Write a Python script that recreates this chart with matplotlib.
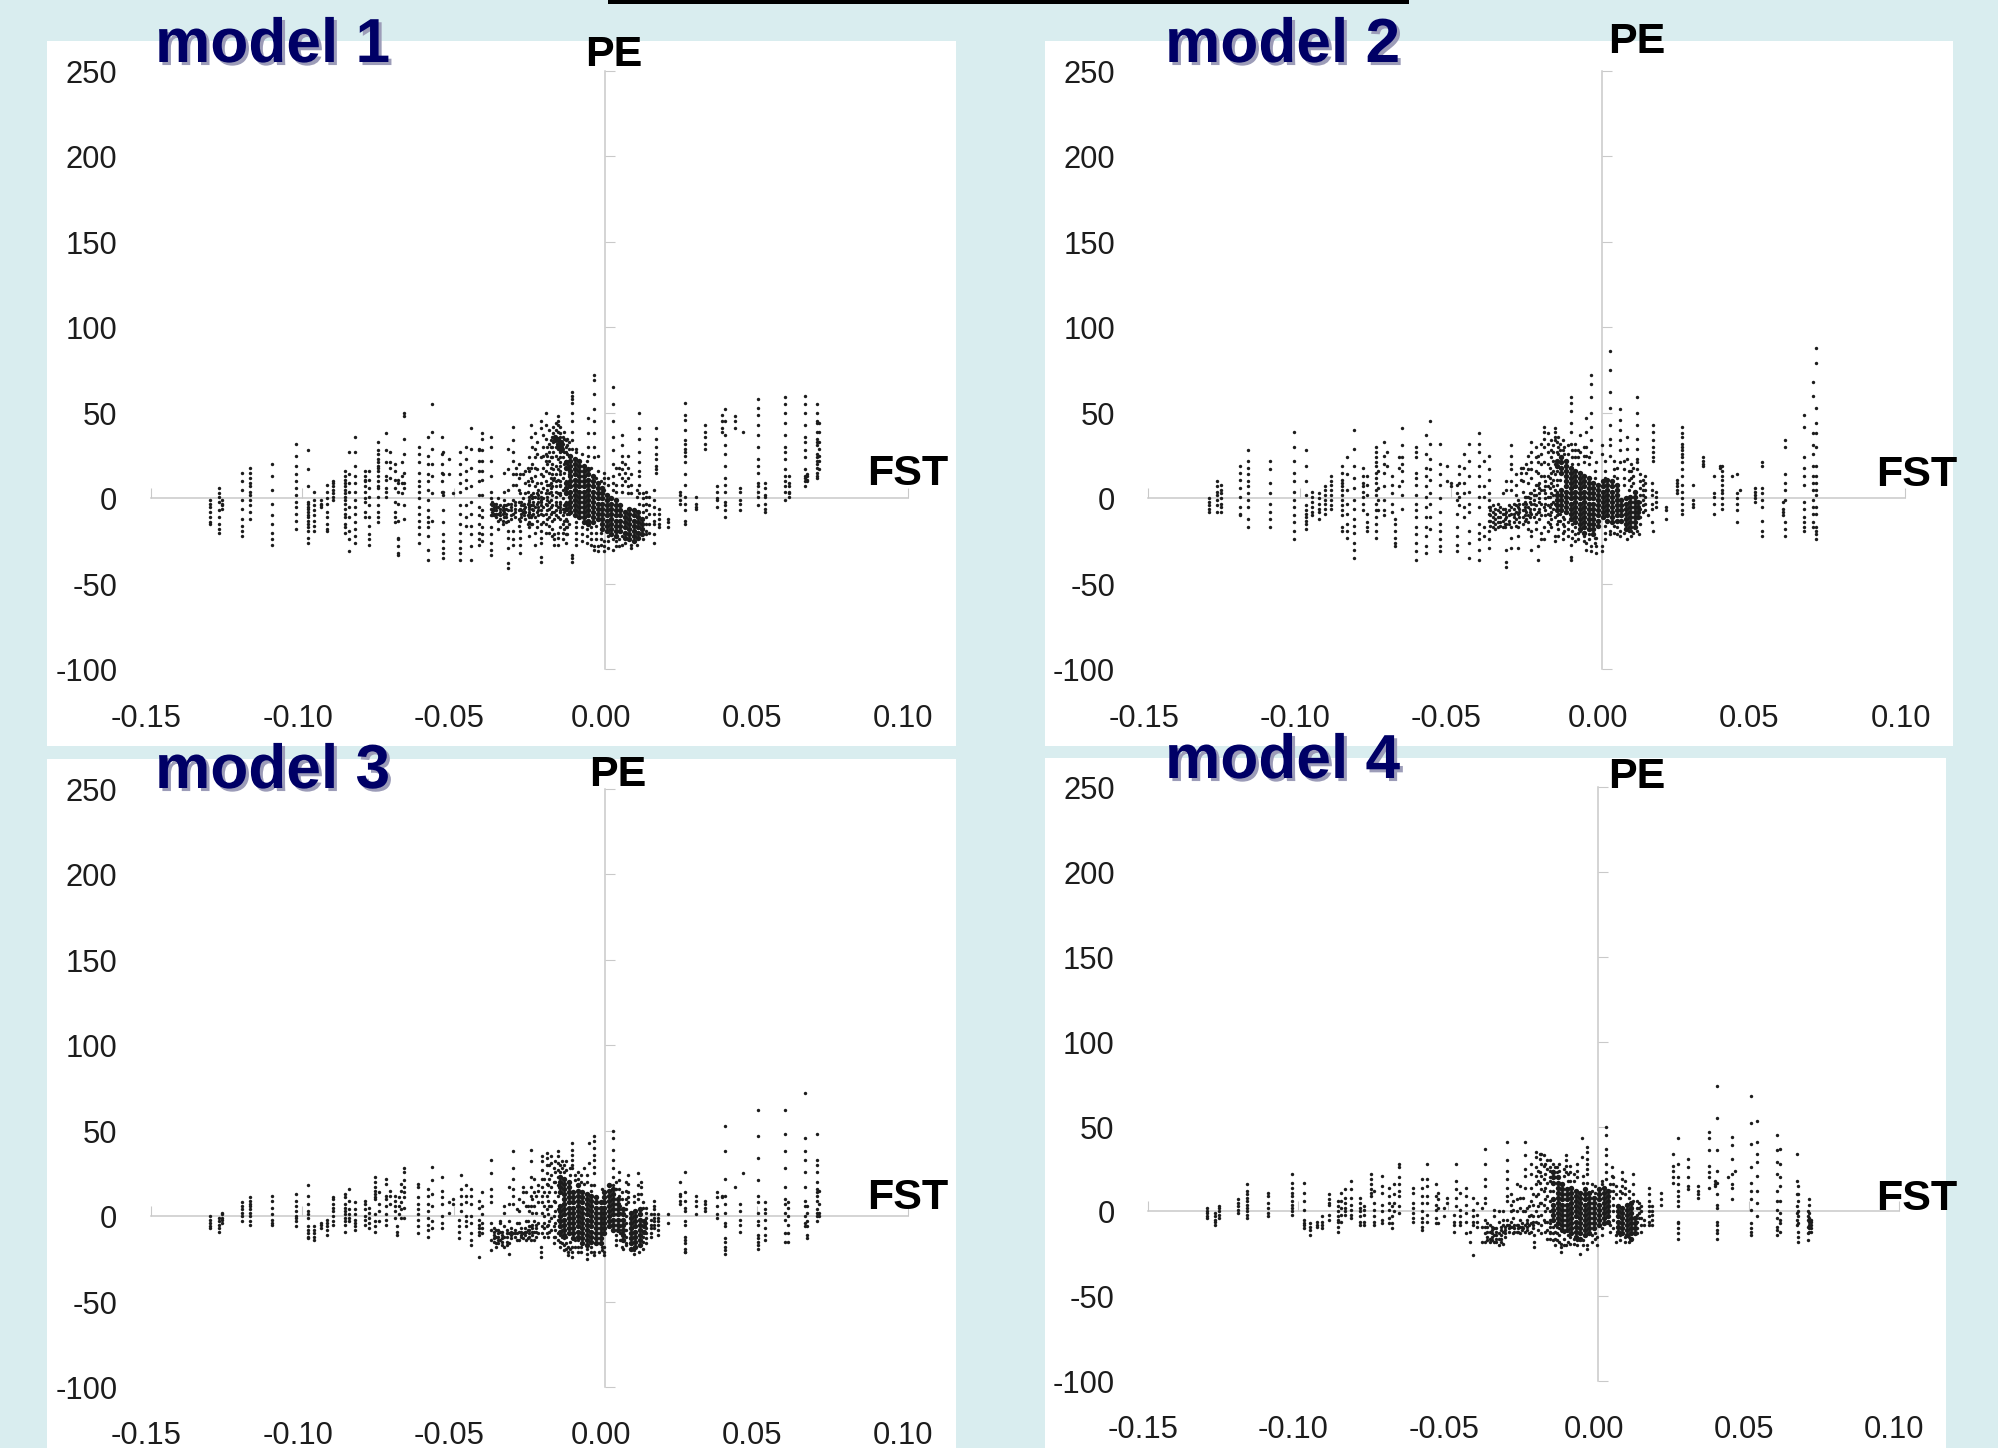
import matplotlib
matplotlib.use("Agg")
import matplotlib.pyplot as plt
import matplotlib.patheffects as pe
from matplotlib.patches import Rectangle
from matplotlib.transforms import ScaledTranslation

plt.rcParams["font.family"] = ["Liberation Sans", "DejaVu Sans"]

x_ticks = [-0.15, -0.10, -0.05, 0.00, 0.05, 0.10]
y_ticks = [-100, -50, 0, 50, 100, 150, 200, 250]
x_labels = ["-0.15", "-0.10", "-0.05", "0.00", "0.05", "0.10"]
y_labels = ["-100", "-50", "0", "50", "100", "150", "200", "250"]

# (FST, [PE values])
model1_points = [
    (-0.1304, [-1, -3, -5, -8, -11, -14, -15]),
    (-0.1276, [6, 3, 1, -2, -7, -11, -15, -18, -20]),
    (-0.1263, [-1, -3, -4, -6]),
    (-0.1199, [15, 10, 5, -1, -6, -12, -16, -19, -22]),
    (-0.1171, [18, 15, 12, 9, 7, 4, 2, -1, -4, -8, -12]),
    (-0.1101, [20, 13, 5, -3, -10, -15, -20, -24, -27]),
    (-0.1021, [32, 25, 19, 14, 10, 6, 2, -2, -5, -9, -13, -18]),
    (-0.0980, [28, 17, 7, -2, -3, -5, -6, -8, -10, -11, -13, -15, -17, -19, -23, -26]),
    (-0.0962, [4, -1, -4, -7, -10, -13, -16, -19]),
    (-0.0937, [-1, -3, -4, -5]),
    (-0.0918, [8, 4, 0, -3, -8, -11, -15, -18, -19]),
    (-0.0899, [10, 9, 7, 5, 3, 1, -1]),
    (-0.0860, [16, 13, 11, 9, 7, 5, 3, 1, -1, -3, -6, -9, -11, -15, -17, -20]),
    (-0.0845, [27, 14, 9, 4, -5, -11, -19, -24, -31]),
    (-0.0824, [36, 27, 19, 13, 9, 4, -1, -5, -9, -14, -18, -22, -26]),
    (-0.0794, [16, 13, 11, 10, 7, 4, 0, -2, -8, -11]),
    (-0.0780, [16, 11, 6, 1, -4, -11, -16, -21, -24, -27]),
    (-0.0750, [33, 28, 26, 23, 21, 19, 18, 16, 13, 10, 7, 6, 1, -4, -8, -11, -14]),
    (-0.0722, [38, 28, 21, 13, 11, 6, 4, 1]),
    (-0.0711, [27, 21, 18, 12]),
    (-0.0695, [20, 16, 11, 6, -2, -8, -11, -14]),
    (-0.0684, [11, 9, 4, -3, -13, -23, -24, -28, -32, -33]),
    (-0.0672, [21, 13, 9, 3]),
    (-0.0664, [50, 48, 35, 26, 15, 9, 6, -4, -12]),
    (-0.0615, [30, 26, 21, 15, 10, 7, 4, 0, -5, -9, -13, -17, -21, -26]),
    (-0.0584, [36, 25, 20, 14, 10, 5, -1, -7, -11, -14, -17, -22, -30, -36]),
    (-0.0571, [55, 39, 29, 20, 13, 3, -13]),
    (-0.0540, [36, 26, 20, 15, 10, 4]),
    (-0.0534, [27, 14, 4, 2, -7, -14, -21, -25, -29, -32, -35]),
    (-0.0516, [23, 14]),
    (-0.0503, [3]),
    (-0.0480, [27, 20, 14, 9, 4, -4, -9, -15, -20, -25, -29, -32, -36]),
    (-0.0460, [30, 23, 16, 11, 6, -4, -11, -16]),
    (-0.0442, [41, 29, 18, 7, -2, -9, -16, -21, -28, -36]),
    (-0.0415, [29, 28, 22, 16, 10, 2, -5, -10, -15, -20, -24, -27]),
    (-0.0406, [38, 35, 28, 22, 16, 11, 2, -7, -11, -17, -21, -25]),
    (-0.0377, [36, 30, 22, 13, 4, 0, -3, -6, -10, -17, -21, -26, -30, -33]),
    (-0.0366, [-3, -5, -7, -9, -10]),
    (-0.0353, [0, -5, -9, -13, -18]),
    (-0.0333, [15, 4, -1, -4, -6, -8, -11]),
    (-0.0319, [29, 17, 5, -3, -7, -13, -19, -23, -29, -38, -41]),
    (-0.0303, [42, 34, 27, 22, 14, 8, -1, -9, -19, -24, -27]),
    (-0.0294, [18, 14, 8]),
    (-0.0285, [20, 12, 5, -2, -7, -12, -16]),
    (-0.0281, [14, 3, -6, -13, -19, -23, -27, -32]),
    (-0.0272, [14, 0, -4, -8]),
    (-0.0265, [16, 9, 3, -5, -8, -12]),
    (-0.0256, [18, 10, 4, -3, -10, -15]),
    (-0.0250, [24, 16, 8, -1, -5, -9, -14, -17, -22]),
    (-0.0245, [43, 36, 18, 12, 2, -4, -11, -15]),
    (-0.0240, [30, 20, 10, 0, -6, -10, -15]),
    (-0.0231, [38, 29, 24, 18, 13, 7, 1, -5, -11, -20, -27]),
    (-0.0225, [33, 26, 17, 9, 3, -3, -8, -13, -17]),
    (-0.0212, [45, 41, 24, 14, 9, -1, -15, -19, -23, -26, -34, -37]),
    (-0.0205, [37, 30, 25, 18, 13, 6, 0, -5, -10, -14]),
    (-0.0196, [50, 43, 35, 26, 22, 16, 10, 3, -3, -9, -15, -20]),
    (-0.0185, [40, 32, 27, 22, 15, 8, 3, -2, -6, -11, -16, -20]),
    (-0.0175, [36, 30, 24, 20, 14, 7, 2, -4, -8, -13, -18, -22]),
    (-0.0168, [12, -8, -12, -21, -24, -27]),
    (-0.0157, [48, 45, 43, 39, 34, 29, 23, 17, 11, 3, -5, -11, -20, -23, -27]),
    (-0.0150, [38, 33, 27, 21, 16, 8, 2, -3, -7, -12, -17]),
    (-0.0140, [36, 32, 29, 24, 12, 5, 0, -6, -10, -15, -20, -24]),
    (-0.0130, [34, 30, 27, 22, 18, 10, 4, -2, -7, -12, -17, -21, -26]),
    (-0.0120, [33, 29, 25, 22, 17, 14, 8, 3, -3, -9, -15]),
    (-0.0108, [62, 60, 58, 56, 50, 45, 39, 34, 29, -33, -35, -37]),
    (-0.0055, [47, 38, 30, 25]),
    (-0.0038, [72, 69, 61, 52, 45, 38, 30, 24, -28, -30]),
    (-0.0023, [25, 16, -28, -31]),
    (-0.0003, [15, 12, 9, 5, -25, -28, -31]),
    (0.0026, [65, 55, 45, 36, 28, 20, 13, 9, 5, -24, -30]),
    (0.0057, [37, 31, 25, 21, 17, 12, 8, 4, -22, -27]),
    (0.0077, [25, 18, 12, 7, 3]),
    (0.0112, [50, 41, 35, 27, 21, 16, 13, 8, 3, -3]),
    (0.0134, [4, 1, -3, -7, -11, -15, -19, -21]),
    (0.0161, [5, -1, -5, -9, -13, -15, -21, -26]),
    (0.0167, [41, 35, 30, 26, 23, 19, 17, 15]),
    (0.0178, [-6, -9, -12, -15, -17]),
    (0.0208, [-12, -14, -17]),
    (0.0248, [4, 2, -1, -3]),
    (0.0263, [56, 49, 46, 40, 34, 32, 29, 27, 25, 21, 14, 8, 1, -3, -7, -13, -15]),
    (0.0300, [1, -3, -5, -6]),
    (0.0331, [43, 39, 36, 32, 29]),
    (0.0368, [7, 4, 0, -1, -5]),
    (0.0387, [49, 45, 41, 39]),
    (0.0396, [52, 45, 37, 31, 26, 19, 12, 8, 4, -2, -4, -7, -11]),
    (0.0428, [48, 45, 41]),
    (0.0444, [6, 4, -1, -3, -7]),
    (0.0454, [39]),
    (0.0505, [58, 53, 49, 43, 37, 30, 23, 19, 15, 9, 7, 4, 1, -4]),
    (0.0528, [9, 6, 2, 1, -3, -6, -8]),
    (0.0595, [59, 55, 50, 44, 37, 30, 27, 23, 17, 13, 10, 7, 4, -1]),
    (0.0606, [13, 9, 7, 4, 3, 1]),
    (0.0660, [60, 55, 50, 43, 36, 33, 28, 24, 17, 13, 12, 10, 7]),
    (0.0665, [14, 13, 11, 10]),
    (0.0700, [55, 50, 45, 44, 39, 35, 33, 31, 26, 24, 22, 20, 18, 15, 13, 12]),
    (0.0705, [44, 39, 33, 29, 25, 22, 17]),
]
model1_band = [
    (-0.0372, [-2, -4, -6, -8, -10]),
    (-0.0360, [-3, -5, -7, -9, -11]),
    (-0.0348, [-4, -6, -8, -10, -12]),
    (-0.0338, [-5, -7, -9, -13, -15]),
    (-0.0326, [-4, -6, -9, -11, -14]),
    (-0.0312, [-3, -5, -7, -10, -12]),
    (-0.0298, [-2, -4, -6, -8, -11]),
    (-0.0276, [-2, -4, -7, -9, -11]),
    (-0.0268, [-3, -6, -8, -10]),
    (-0.0252, [1, -2, -4, -6, -8, -11]),
    (-0.0238, [3, 1, -2, -4, -7, -9]),
    (-0.0222, [5, 2, 0, -2, -5, -7, -10]),
    (-0.0210, [4, 1, -2, -4, -7, -9]),
    (-0.0192, [30, 25, 20, 8, 5, 1, -1, -4, -7, -12]),
    (-0.0180, [34, 30, 24, 18, 12, 9, 6, 4, -1, -5, -9]),
    (-0.0172, [42, 38, 33, 27, 17, 11]),
    (-0.0162, [44, 40, 30, 25, 19, 14, 10, 7, 4, 1, -2, -4, -7, -10]),
    (-0.0148, [42, 36, 31, 24, 19, 14, 10, 7, 3, -2, -5, -8]),
    (-0.0136, [39, 35, 27, 20, 15, -4, -8, -13, -18]),
    (-0.0126, [35, 31, 26, 20, -9, -13, -17, -21]),
    (-0.0095, [29, 27, -14, -17, -20, -24, -27]),
    (-0.0075, [26, -17, -21, -25]),
    (-0.0060, [22, -18, -22, -26]),
    (-0.0045, [18, -17, -20, -24, -27]),
    (-0.0030, [12, -16, -20, -24]),
    (-0.0015, [10, -20, -24, -27]),
    (0.0010, [12, 8, -22, -25, -29]),
    (0.0035, [18, 8, 4, -25, -28]),
    (0.0045, [18, 14, -24, -28]),
    (0.0065, [20, 15, 10, -26]),
    (0.0085, [14, 8, 3, -27, -29]),
    (0.0105, [5, 1, -27]),
    (0.0125, [3, 0, -4, -8, -24]),
    (0.0145, [1, -4, -9, -15, -20]),
]
model1_core = [
    (-0.0165, [36, 34]),
    (-0.0155, [35, 32, 30]),
    (-0.0145, [33, 30, 28]),
    (-0.0130, [21, 18, 9, 6, 3, -3, -6]),
    (-0.0115, [25, 22, 19, 16, 13, 10, 7, 4, 1, -2, -5, -8]),
    (-0.0100, [23, 20, 17, 14, 11, 8, 5, 2, -1, -4, -7, -10]),
    (-0.0085, [22, 19, 16, 13, 10, 7, 4, 1, -2, -5, -8, -11]),
    (-0.0070, [19, 16, 13, 10, 7, 4, 1, -2, -5, -8, -11, -14]),
    (-0.0055, [17, 14, 11, 8, 5, 2, -1, -4, -7, -10, -13, -15]),
    (-0.0040, [13, 10, 7, 4, 1, -2, -5, -8, -11, -14]),
    (-0.0025, [9, 6, 3, 0, -3, -6, -9, -12]),
    (-0.0010, [6, 3, 0, -3, -6, -9, -12, -15, -18]),
    (0.0005, [2, -1, -4, -7, -10, -13, -16, -19]),
    (0.0020, [0, -3, -6, -9, -12, -15, -18, -21]),
    (0.0035, [-1, -4, -7, -10, -13, -16, -19, -22]),
    (0.0050, [-4, -7, -10, -13, -16, -19]),
    (0.0065, [-8, -11, -14, -17, -20, -23]),
    (0.0080, [-6, -9, -12, -15, -18, -21, -24]),
    (0.0095, [-7, -10, -13, -16, -19, -22, -25]),
    (0.0110, [-8, -11, -14, -17, -20, -23]),
    (0.0122, [-12, -15, -18, -21]),
]

model2_points = [
    (-0.1301, [0, -2, -4, -6, -8]),
    (-0.1272, [10, 7, 4, 2, -1, -4, -8]),
    (-0.1260, [8, 5, 3, 0, -3, -5, -8]),
    (-0.1196, [19, 15, 11, 6, 1, -5, -9, -10]),
    (-0.1169, [28, 22, 18, 14, 10, 7, 3, -1, -5, -12, -17]),
    (-0.1098, [22, 17, 9, 3, -3, -8, -12, -17]),
    (-0.1018, [39, 30, 22, 15, 10, 4, -1, -5, -10, -14, -19, -24]),
    (-0.0979, [28, 19, 10, 2, -4, -7, -9, -11, -13, -15, -18]),
    (-0.0960, [4, 1, -2, -5, -8, -10]),
    (-0.0935, [3, 0, -3, -6, -8, -12]),
    (-0.0916, [7, 5, 2, -1, -3, -6, -9]),
    (-0.0896, [13, 10, 8, 5, 2, -1, -4, -6]),
    (-0.0861, [19, 15, 11, 9, 7, 5, 2, -1, -4, -7, -10, -17, -19]),
    (-0.0843, [24, 14, 5, -3, -9, -15, -19, -23]),
    (-0.0821, [40, 29, 19, 12, 6, -1, -6, -12, -16, -20, -26, -30, -35]),
    (-0.0792, [18, 13, 9, 7, 4, 1, -3, -7]),
    (-0.0778, [13, 8, 2, -9, -14, -17, -19]),
    (-0.0748, [30, 27, 24, 21, 19, 15, 12, 9, 5, 2, -3, -7, -11, -15, -19, -23]),
    (-0.0741, [16, 6, -1, -7]),
    (-0.0720, [33, 25, 20, 15, 7, -1, -7, -10]),
    (-0.0713, [27, 19]),
    (-0.0694, [13, 8, 3, -3, -8]),
    (-0.0686, [-12, -15, -19, -23, -26, -28]),
    (-0.0673, [24, 18, 7]),
    (-0.0661, [41, 31, 24, 20, 16, 10, 2, -6]),
    (-0.0614, [30, 27, 24, 15, 12, 8, 2, -3, -7, -11, -17, -21, -26, -31, -36]),
    (-0.0583, [37, 26, 18, 13, 7, 1, -5, -11, -17, -22, -28, -32]),
    (-0.0569, [45, 32, 23, 17, 11, 3, -3, -11, -18]),
    (-0.0537, [32, 20, 14, 8, 0, -8, -15, -19, -24, -28, -31]),
    (-0.0513, [19, 10]),
    (-0.0501, [9, 7]),
    (-0.0480, [8, 3, -1, -9, -17, -22, -27, -31]),
    (-0.0473, [19, 14, 9, 1, -4]),
    (-0.0457, [26, 18, 9, 3, -5, -11]),
    (-0.0439, [32, 22, 13, 4, -3, -8, -19, -26, -35]),
    (-0.0409, [38, 32, 27, 19, 13, 7, 1, -5, -15, -20, -24, -30, -36]),
    (-0.0390, [22, 7, 1, -17, -22]),
    (-0.0376, [25, 17, 11, 3, -1, -5, -9, -13, -19, -24, -29]),
    (-0.0361, [-4, -8, -11, -14, -17]),
    (-0.0345, [-3, -7, -11, -14, -17]),
    (-0.0329, [3, -6, -9, -13, -17]),
    (-0.0317, [10, 5, -8, -11, -15, -30, -37, -40]),
    (-0.0301, [31, 25, 20, 17, 10, 5, -5, -9, -17, -23, -29]),
    (-0.0285, [14, 8, 2, -4, -8, -12, -16]),
    (-0.0279, [-1, -5, -9, -17, -22, -29]),
    (-0.0270, [18, 15, 11]),
    (-0.0262, [18, 10, 4, -3, -7, -11, -15]),
    (-0.0252, [20, 15, 1, -3, -8, -12]),
    (-0.0245, [25, 17, 9, 1, -5, -10, -14, -18]),
    (-0.0235, [33, 27, 21, 17, 12, 3, -3, -9, -19, -22, -30]),
    (-0.0220, [30, 24, 16, 8, 2, -4, -9, -14, -18]),
    (-0.0213, [25, 21, 15, 8, -8, -28, -36]),
    (-0.0202, [32, 26, 20, 13, 5, -3, -10, -20, -24]),
    (-0.0194, [42, 39, 35, 30, 21, 13, 5, -5, -17, -24]),
    (-0.0180, [38, 32, 27, 20, 13, 7, 1, -4, -9, -14, -19]),
    (-0.0170, [34, 28, 24, 15, 9, 3, -3, -8, -12, -17]),
    (-0.0157, [41, 39, 36, 34, 20, 14, 5, -3, -11, -22, -25]),
    (-0.0145, [36, 30, 26, -9, -13, -18, -22]),
    (-0.0130, [34, 28, -11, -15, -20, -24]),
    (-0.0115, [31, 26, -14, -18, -22]),
    (-0.0105, [59, 56, 51, 44, 39, 32, -27, -34, -36]),
    (-0.0090, [32, 28, 24, -17, -21, -25]),
    (-0.0074, [37, 27, -19]),
    (-0.0060, [30, 25, 21, -22, -25]),
    (-0.0053, [47, 39, 30, 25, -26, -30]),
    (-0.0037, [72, 67, 59, 50, 42, 34, 27, -28, -31]),
    (-0.0021, [21, -23, -28, -32]),
    (-0.0002, [31, 26, -28, -31]),
    (0.0027, [86, 75, 62, 53, 43, 35, 31, 25, -19, -21]),
    (0.0040, [22, 17, 13, -16, -20]),
    (0.0058, [52, 46, 40, 34, 28, 21, -19, -22]),
    (0.0070, [22, 17, 12, 8, -20]),
    (0.0080, [36, 29, 23, -24]),
    (0.0095, [20, 16, 12, 7, -19, -22]),
    (0.0113, [59, 50, 43, 35, 29, 23, 21, 17, -19]),
    (0.0122, [-21]),
    (0.0125, [14, 10, 6, 2, -2, -6, -11, -15]),
    (0.0134, [11, 8, 5, 2, -1, -4, -8]),
    (0.0151, [-10]),
    (0.0164, [9, 5, 2, -3, -6, -14]),
    (0.0169, [43, 39, 34, 30, 27, 24, 22, -19]),
    (0.0178, [4, 1, -2, -5]),
    (0.0209, [-5, -7, -12]),
    (0.0248, [11, 9, 7, 5, 3]),
    (0.0264, [42, 38, 36, 32, 30, 28, 26, 24, 21, 17, 13, 8, 4, 0, -3, -7, -9]),
    (0.0301, [8, -1, -3, -5]),
    (0.0332, [24, 22, 20, 19]),
    (0.0369, [13, 3, 1, -3, -9]),
    (0.0388, [19, 18]),
    (0.0397, [19, 16, 13, 11, 8, 5, 3, 0, -3, -6]),
    (0.0430, [13]),
    (0.0446, [14, 3, 0, -3, -7, -14]),
    (0.0455, [5]),
    (0.0506, [6, 4, 2, 0, -2]),
    (0.0528, [21, 19, 6, 3, -1, -5, -13, -19, -22]),
    (0.0597, [-2, -6, -8, -10]),
    (0.0605, [34, 30, 14, 9, 5, -1, -14, -18, -22]),
    (0.0666, [49, 42, 24, 18, 13, 8, -2, -6, -11, -14, -17, -19]),
    (0.0697, [68, 60, 38, 31, 26, 19, 13, 9, 5, -1, -5, -9, -14, -17]),
    (0.0706, [88, 79, 53, 44, 38, 30, 19, 13, 9, 5, 2, -5, -9, -17, -19, -21, -24]),
]
model2_band = [
    (-0.0370, [-5, -7, -10, -13, -16]),
    (-0.0356, [-6, -9, -12, -15, -18]),
    (-0.0338, [-5, -8, -11, -14, -16]),
    (-0.0322, [-6, -9, -12, -15, -17]),
    (-0.0308, [-4, -7, -10, -13, -15]),
    (-0.0292, [-3, -6, -9, -11, -14]),
    (-0.0274, [-3, -6, -8, -11, -14]),
    (-0.0256, [1, -2, -5, -7, -10, -13]),
    (-0.0240, [3, 0, -2, -6, -8, -11]),
    (-0.0226, [5, 2, -1, -3, -6, -11]),
    (-0.0208, [9, 6, 3, 0, -2, -6, -8, -12]),
    (-0.0188, [10, 7, 3, 0, -3, -7, -10]),
    (-0.0174, [18, 12, 6, 1, -5, -10, -15]),
    (-0.0162, [31, 27, 22, 16, 11, 7, 2, -2, -6]),
    (-0.0150, [33, 27, 16, 11, 8, 4, -10, -15]),
    (-0.0140, [32, 28, 11, -9, -13]),
    (-0.0125, [30, 26, -12, -16, -19]),
    (-0.0100, [28, 24, 20, -15, -19, -23]),
    (-0.0080, [28, 24, 20, -20, -24]),
    (-0.0045, [24, 20, -21, -24]),
    (-0.0025, [16, 12, -23, -26]),
    (0.0010, [22, 16, 12, -16, -20, -24]),
    (0.0050, [18, 12, -17, -21]),
    (0.0088, [16, 11, 5, -19]),
    (0.0103, [18, 13, 9, -20]),
    (0.0140, [13, 9, 5, 1, -3, -7]),
]
model2_core = [
    (-0.0150, [22, 19, 2, -1, -4, -7]),
    (-0.0135, [24, 21, 18, 15, 5, 2, -1, -4, -7]),
    (-0.0120, [22, 19, 16, 13, 10, 7, 4, 1, -2, -5, -8]),
    (-0.0105, [18, 15, 12, 9, 6, 3, 0, -3, -6, -9, -12]),
    (-0.0090, [16, 13, 10, 7, 4, 1, -2, -5, -8, -11, -14]),
    (-0.0075, [15, 12, 9, 6, 3, 0, -3, -6, -9, -12, -15, -18]),
    (-0.0060, [13, 10, 7, 4, 1, -2, -5, -8, -11, -14, -17, -20]),
    (-0.0045, [12, 9, 6, 3, 0, -3, -6, -9, -12, -15, -18]),
    (-0.0030, [9, 6, 3, 0, -3, -6, -9, -12, -15, -18, -21]),
    (-0.0015, [8, 5, 2, -1, -4, -7, -10, -13, -16]),
    (0.0002, [10, 7, 4, 1, -2, -5, -8, -11]),
    (0.0017, [11, 8, 5, 2, -1, -4, -7, -10, -13]),
    (0.0032, [10, 7, 4, 1, -2, -5, -8, -11, -14]),
    (0.0047, [8, 5, 2, -1, -4, -7, -10, -13]),
    (0.0062, [-1, -4, -7, -10, -13]),
    (0.0077, [0, -3, -6, -9, -12, -15, -18]),
    (0.0092, [1, -2, -5, -8, -11, -14, -17]),
    (0.0107, [4, 1, -2, -5, -8, -11, -14, -17]),
    (0.0118, [-2, -5, -8, -11]),
]

model3_points = [
    (-0.1304, [0, -2, -4, -6, -7]),
    (-0.1276, [-1, -3, -5, -7, -9]),
    (-0.1263, [2, 1, -1, -2, -4]),
    (-0.1199, [8, 6, 4, 2, 0, -3]),
    (-0.1171, [11, 9, 7, 6, 4, 2, 0, -3, -5]),
    (-0.1101, [12, 9, 5, 1, -2, -4, -5]),
    (-0.1021, [13, 9, 6, 3, 0, -1, -3, -6]),
    (-0.0980, [18, 12, 7, 3, 1, -1, -6, -8, -10, -12, -13]),
    (-0.0962, [-6, -8, -10, -12, -14]),
    (-0.0937, [-4, -5, -7]),
    (-0.0918, [-2, -4, -6, -8, -11]),
    (-0.0899, [11, 10, 7, 5, 3, 0, -3, -5]),
    (-0.0860, [13, 11, 7, 5, 3, 1, -1, -3, -5, -9]),
    (-0.0845, [16, 9, 4, 1, -1, -3]),
    (-0.0824, [8, 4, 1, -2, -4, -6, -8]),
    (-0.0794, [9, 7, 4, 0, -2, -5]),
    (-0.0780, [5, 2, -1, -4, -7]),
    (-0.0758, [23, 20, 17, 15, 13, 11, 10, 1, -3, -6, -9]),
    (-0.0745, [14, 7, 3, -3]),
    (-0.0722, [22, 19, 12, 10, 6, 1, -2, -5]),
    (-0.0711, [15, 12, 7]),
    (-0.0695, [12, 9, 6, 3, -1]),
    (-0.0687, [-6, -9, -11]),
    (-0.0681, [11, 6, 1]),
    (-0.0673, [19, 15, 8, 4, -1]),
    (-0.0664, [28, 26, 21, 17, 14, 11, 5, -1]),
    (-0.0617, [19, 17, 11, 7, 4, 1, -2, -6, -10]),
    (-0.0586, [16, 12, 7, 3, -1, -5, -8, -12]),
    (-0.0571, [29, 21, 13, 6, -3, -7]),
    (-0.0539, [23, 15, 11, 7, 0, -4, -7]),
    (-0.0516, [8, 2]),
    (-0.0503, [10, 7]),
    (-0.0481, [-2, -6, -9, -13]),
    (-0.0475, [24, 16, 12, 7, 3]),
    (-0.0460, [18, 12, 8, 0, -3, -6]),
    (-0.0442, [16, 12, 7, 0, -4, -10, -14, -17]),
    (-0.0417, [9, 5, -2, -5, -7, -9, -11, -24]),
    (-0.0407, [14, 6, 1, -4, -7, -10]),
    (-0.0377, [33, 25, 16, 12, 8, -4, -8, -14, -20]),
    (-0.0360, [-8, -12, -16, -18]),
    (-0.0346, [-3, -4, -9, -14]),
    (-0.0333, [6, 2, -6, -12, -18]),
    (-0.0316, [17, 7, -3, -10, -16, -22]),
    (-0.0303, [38, 28, 22, 16, 12, 7, -10]),
    (-0.0290, [4, -4, -10, -14]),
    (-0.0285, [10, 3, -4, -9, -14]),
    (-0.0272, [17, 14, 8, -10, -13]),
    (-0.0262, [14, 6, -3, -9, -14]),
    (-0.0256, [6, -3, -8, -13]),
    (-0.0245, [39, 32, 23, 17, 12, 6, -6, -14]),
    (-0.0235, [22, 14, 6, -3, -9, -14]),
    (-0.0223, [18, 15, 8, -4, -10]),
    (-0.0212, [-18, -21, -24]),
    (-0.0207, [35, 32, 27, 22, 17, 12, 8, 2, -6, -10]),
    (-0.0193, [37, 34, 30, 25, 19, 12, 4, -6, -10]),
    (-0.0185, [30, 22, 14, 6, -3, -9]),
    (-0.0179, [35, 31, 24, 17, 6, -1, -8]),
    (-0.0170, [28, 20, 9, 0, -6, -12, -16]),
    (-0.0157, [38, 35, 31, 27, 23, 18, 12, 4, -2, -10, -14]),
    (-0.0150, [30, 26, -11, -15, -18]),
    (-0.0135, [30, 26, -13, -17, -20]),
    (-0.0124, [-18, -21, -23]),
    (-0.0115, [28, 24, -15, -19]),
    (-0.0108, [43, 39, 36, 33, 30, 28, -18, -21, -24]),
    (-0.0090, [26, 22, -14, -18, -21]),
    (-0.0069, [28, 19]),
    (-0.0060, [24, 20, -19, -22]),
    (-0.0059, [-25]),
    (-0.0054, [43, 31]),
    (-0.0038, [47, 44, 40, 36, 33, 29, 25, 18]),
    (-0.0035, [-21, -23]),
    (-0.0020, [-21]),
    (-0.0004, [-18, -21, -23]),
    (0.0026, [50, 46, 39, 33, 28, 23, 18]),
    (0.0046, [26, 21, 16, 12]),
    (0.0055, [14, 10, -10, -14, -18]),
    (0.0060, [-19]),
    (0.0070, [20, 15, 10, 7, -17]),
    (0.0077, [24, 19, 14, 11, 8]),
    (0.0095, [12, 8, -20, -22]),
    (0.0110, [25, 18, 13, 10]),
    (0.0112, [-21]),
    (0.0119, [20, 17, 13]),
    (0.0125, [8, 5, -12, -15, -19]),
    (0.0134, [5, 2, -1, -4]),
    (0.0151, [-7, -10]),
    (0.0161, [9, 6, 4, 1, -1, -3, -5, -7]),
    (0.0175, [1, -1, -3, -5, -8, -11]),
    (0.0208, [1, -4]),
    (0.0248, [20, 13, 12, 9, 7]),
    (0.0263, [26, 14, 9, 5, 3, -3, -5, -12, -14, -16, -19, -21, -21]),
    (0.0300, [12, 9, 6, 1]),
    (0.0331, [9, 7, 5, 3]),
    (0.0368, [14, 11, 6, 1, -1]),
    (0.0387, [12, 11]),
    (0.0396, [53, 38, 22, 12, 7, 2, -4, -6, -13, -15, -18, -20, -22]),
    (0.0428, [17]),
    (0.0444, [7, 3, -2, -5, -9]),
    (0.0454, [25]),
    (0.0505, [62, 47, 34, 21, 12, 8, 2, -3, -5, -11, -13, -15, -17, -19]),
    (0.0528, [8, 4, 2, -2, -7, -11, -14]),
    (0.0595, [62, 48, 38, 28, 17, 10, 7, 2, -2, -10, -15]),
    (0.0605, [8, 5, 0, -5, -10, -15]),
    (0.0660, [72, 46, 38, 33, 26, 17, 9, 6, 0, -4, -6]),
    (0.0667, [6, 2, -3, -6, -11, -13]),
    (0.0700, [48, 33, 30, 26, 20, 16, 14, 12, 9, 4, 2, 0, -3]),
    (0.0706, [15, 7, 2, 0]),
]
model3_band = [
    (-0.0368, [-7, -9, -11, -13, -15]),
    (-0.0352, [-8, -10, -12, -14, -16]),
    (-0.0340, [-9, -11, -13, -15, -17]),
    (-0.0324, [-8, -10, -12, -15, -17]),
    (-0.0310, [-7, -9, -11, -13]),
    (-0.0296, [-8, -10, -12]),
    (-0.0278, [-7, -9, -11, -12]),
    (-0.0266, [-7, -9, -11]),
    (-0.0250, [3, -6, -8, -10, -12]),
    (-0.0240, [10, 2, -5, -7, -9, -11]),
    (-0.0228, [12, 2, -5, -7, -9, -12]),
    (-0.0200, [22, 14, 6, 0, -4, -7, -12]),
    (-0.0188, [18, 9, 1, -5, -12]),
    (-0.0165, [32, 26, 20, 14, 8, 3, -4, -8, -12]),
    (-0.0142, [32, 28, -8, -12, -16]),
    (-0.0128, [32, 27, -12, -16, -19]),
    (-0.0098, [24, 21, -14, -18]),
    (-0.0080, [24, 20, -18, -21]),
    (-0.0045, [18, 15, -18, -21]),
    (-0.0010, [16, -18, -20]),
    (0.0036, [20, 16, -11, -14, -17]),
    (0.0050, [6, 2, -2, -6, -10, -14]),
    (0.0070, [4, 0, -4, -8, -12, -16]),
    (0.0135, [-7, -10, -13, -16]),
    (0.0150, [1, -2, -5, -12]),
]
model3_core = [
    (-0.0150, [23, 20, 17, 14, 6, 3, 0, -3, -6, -9]),
    (-0.0135, [22, 19, 16, 13, 10, 7, 4, 1, -2, -5, -8, -11]),
    (-0.0120, [20, 17, 14, 11, 8, 5, 2, -1, -4, -7, -10]),
    (-0.0105, [14, 11, 8, 5, 2, -1, -4, -7, -10, -13]),
    (-0.0090, [18, 15, 12, 9, 6, 3, 0, -3, -6, -9, -12]),
    (-0.0075, [14, 11, 8, 5, 2, -1, -4, -7, -10, -13, -16]),
    (-0.0060, [13, 10, 7, 4, 1, -2, -5, -8, -11, -14, -17]),
    (-0.0045, [12, 9, 6, 3, 0, -3, -6, -9, -12, -15]),
    (-0.0030, [11, 8, 5, 2, -1, -4, -7, -10, -13, -16]),
    (-0.0015, [8, 5, 2, -1, -4, -7, -10, -13, -16]),
    (-0.0003, [14, 11, 8, 5, 2, -1, -4, -7, -10]),
    (0.0012, [18, 15, 12, 9, 6, 3, 0, -3, -6]),
    (0.0027, [16, 13, 10, 7, 4, 1, -2, -5, -8]),
    (0.0042, [10, 7, 4, 1, -2, -5, -8]),
    (0.0060, [4, 1, -2, -5, -8, -11, -14]),
    (0.0085, [2, -1, -4, -7, -10, -13, -16, -19]),
    (0.0100, [3, 0, -3, -6, -9, -12, -15, -18]),
    (0.0115, [4, 1, -2, -5, -8, -11, -14, -17]),
    (0.0128, [-3, -6, -9]),
]

model4_points = [
    (-0.1302, [2, 0, -1, -3, -4]),
    (-0.1275, [-1, -3, -5, -6, -8]),
    (-0.1263, [3, 2, 0, -2, -4]),
    (-0.1199, [7, 5, 3, 1, -1]),
    (-0.1170, [16, 12, 10, 8, 6, 4, 2, 0, -2, -4]),
    (-0.1099, [11, 9, 5, 2, -1, -3]),
    (-0.1019, [22, 17, 14, 11, 9, 6, 4, 2, 0, -2]),
    (-0.0981, [17, 11, 6, 1, -5, -7, -8, -10]),
    (-0.0961, [-7, -9, -11, -14]),
    (-0.0938, [-6, -8, -9]),
    (-0.0919, [-3, -6, -8, -10]),
    (-0.0898, [10, 7, 5, 4, -2, -5]),
    (-0.0865, [6, 3, 0, -3, -5, -6, -9, -12]),
    (-0.0858, [11, 6, 2, -2, -6]),
    (-0.0844, [13, 8, 5, 2, 0, -2]),
    (-0.0823, [18, 13, 8, 4, 1, -2, -4]),
    (-0.0793, [8, 5, 2, 0, -3, -6, -8]),
    (-0.0780, [3, 1, -2, -6, -8]),
    (-0.0758, [22, 19, 16, 13, 11, 9]),
    (-0.0747, [12, 5, 1, -3, -6, -8]),
    (-0.0720, [21, 15, 11, 4, 0, -5, -7]),
    (-0.0697, [14, 9, 5, 1, -4, -7]),
    (-0.0687, [3, -3, -7, -10]),
    (-0.0680, [16, 10, 5, 0]),
    (-0.0664, [28, 26, 20, 16, 12, 9, 3, -1]),
    (-0.0616, [14, 11, 5, 2, -1, -4, -6]),
    (-0.0586, [19, 14, 9, 5, 0, -4, -6, -9, -11]),
    (-0.0571, [28, 19, 15, 9, 5, -2, -6]),
    (-0.0540, [16, 9, 4, 1, -4, -7]),
    (-0.0534, [11, 7, 2, -7]),
    (-0.0515, [2, -3]),
    (-0.0503, [8, 5]),
    (-0.0482, [-2, -6, -8, -12]),
    (-0.0475, [28, 18, 13, 8, 3]),
    (-0.0460, [11, 1, -3, -6, -8]),
    (-0.0441, [14, 9, 4, -1, -6, -13]),
    (-0.0427, [-12, -18]),
    (-0.0418, [8, 1, -3, -6, -8, -26]),
    (-0.0404, [5, -2, -6, -9]),
    (-0.0387, [2, -9, -18]),
    (-0.0377, [37, 28, 19, 15, 8, 5, -5, -9, -13, -18]),
    (-0.0362, [-8, -12, -16, -18]),
    (-0.0346, [1, -3, -10, -14, -18]),
    (-0.0331, [0, -6, -13, -16, -20]),
    (-0.0316, [0, -5, -8, -12, -19]),
    (-0.0304, [41, 30, 24, 19, 14, 9, 6, -5, -8]),
    (-0.0290, [10, 4, 0, -6, -9]),
    (-0.0285, [6, 1, -4, -9, -13]),
    (-0.0271, [16, 7, 0, -8, -12]),
    (-0.0262, [15, 8, 2, -5, -9, -13]),
    (-0.0252, [8, 0, -10]),
    (-0.0245, [41, 33, 25, 21, 14, 0, -8, -12]),
    (-0.0232, [3, -3, -8, -13]),
    (-0.0225, [28, 22, 14, 6, -2, -7, -12]),
    (-0.0214, [-14, -18, -21]),
    (-0.0207, [35, 32, 26, 21, 16, 9, 0, -6]),
    (-0.0194, [34, 31, 23, 17, 5]),
    (-0.0190, [34, 28, 21, 13, 5, -2, -8, -13]),
    (-0.0180, [33, 27, 19, 12, 4, -5]),
    (-0.0170, [30, 25, 17, 9, 2, -6, -11, -16]),
    (-0.0160, [26, 20, -7, -12, -16]),
    (-0.0145, [26, 20, -8, -12, -16, -20]),
    (-0.0130, [28, 24, -10, -14, -18]),
    (-0.0124, [-19, -21, -24]),
    (-0.0115, [25, 21, -12, -16, -20]),
    (-0.0109, [33, 30, 27, 23, -20]),
    (-0.0095, [27, 23, 18, -15, -19]),
    (-0.0070, [28, 24, 20, -17, -20]),
    (-0.0061, [-25]),
    (-0.0053, [43, 32]),
    (-0.0039, [38, 35, 31, 28, 25, 22, 17, -20, -22]),
    (-0.0020, [16, 12, -14, -18]),
    (-0.0004, [-20, -15]),
    (0.0027, [50, 45, 37, 33, 28, 23, 19]),
    (0.0045, [26, 21]),
    (0.0050, [20, 16, 12, 8, 4, 0, -5, -10]),
    (0.0060, [15, 10, -14, -18]),
    (0.0079, [23, 19, 15, 11]),
    (0.0090, [18, 14, 10, -15, -18]),
    (0.0114, [22, 16, 10, 6]),
    (0.0130, [6, 2, -2, -6, -10, -13]),
    (0.0134, [5, 2, -1, -4]),
    (0.0151, [-5, -8]),
    (0.0167, [14, 10, 6, 3, 0, -3, -6, -8]),
    (0.0177, [3, 0, -2, -5, -8]),
    (0.0208, [11, 7, 4]),
    (0.0248, [34, 27, 24, 20, 17]),
    (0.0264, [43, 28, 20, 16, 12, 9, 6, 3, -6, -7, -10, -13, -16]),
    (0.0300, [31, 26, 20, 15, 13]),
    (0.0331, [15, 12, 10, 8]),
    (0.0368, [47, 43, 36, 27, 23, 20, 14]),
    (0.0387, [18, 16, 15]),
    (0.0396, [74, 55, 36, 24, 17, 10, 4, 2, -6, -8, -11, -13, -16]),
    (0.0430, [20]),
    (0.0444, [44, 39, 31, 22, 16, 14, 7]),
    (0.0454, [24]),
    (0.0508, [68, 52, 40, 26, 17, 12, 7, 1, -7, -10, -12, -14]),
    (0.0527, [53, 41, 34, 29, 21, 12, 5, -3]),
    (0.0595, [45, 36, 29, 22, 12, 6, 1, -4, -9, -11, -14]),
    (0.0605, [37, 28, 20, 15, 6, -1, -5, -7, -12]),
    (0.0661, [34, 18, 10, 3, -1, -5, -8]),
    (0.0666, [15, 10, 6, 0, -3, -7, -12, -15, -18]),
    (0.0697, [0, -3, -5, -9, -13, -17]),
    (0.0700, [7, 4, -1, -4, -6, -8, -10, -12]),
    (0.0707, [-5, -6, -8, -10, -12]),
]
model4_band = [
    (-0.0372, [-7, -9, -12, -15, -17]),
    (-0.0355, [-9, -11, -13, -15, -17]),
    (-0.0340, [-10, -12, -14, -16, -18]),
    (-0.0325, [-9, -11, -14, -16, -18]),
    (-0.0310, [-9, -11, -13, -15]),
    (-0.0296, [-8, -10, -12]),
    (-0.0280, [-8, -10, -12]),
    (-0.0266, [-8, -10, -12]),
    (-0.0255, [-7, -9, -11]),
    (-0.0238, [2, -5, -7, -9, -11]),
    (-0.0218, [10, 4, -3, -6, -8, -10]),
    (-0.0200, [24, 18, 10, 3, -3, -7, -11]),
    (-0.0176, [28, 22, 14, 7, 0, -6, -12]),
    (-0.0162, [30, 24, 18, 12, 6, 0, -5, -9, -13]),
    (-0.0152, [28, 24, 12, -9, -13, -17]),
    (-0.0138, [26, 23, -9, -13, -17]),
    (-0.0100, [22, 18, -14, -18]),
    (-0.0082, [22, 18, -16, -19]),
    (-0.0050, [21, 17, -17, -20]),
    (-0.0010, [15, 11, -13, -16]),
    (0.0012, [18, 16, -10, -14]),
    (0.0040, [16, 12, -8, -12]),
    (0.0072, [12, 8, -14, -17]),
    (0.0102, [12, 8, -15, -18]),
    (0.0142, [3, 0, -4, -8, -12]),
]
model4_core = [
    (-0.0150, [23, 20, 17, 7, 4, 1, -2, -5]),
    (-0.0135, [20, 17, 14, 11, 8, 5, 2, -1, -4, -7]),
    (-0.0120, [16, 13, 10, 7, 4, 1, -2, -5, -8, -11]),
    (-0.0105, [13, 10, 7, 4, 1, -2, -5, -8, -11]),
    (-0.0090, [14, 11, 8, 5, 2, -1, -4, -7, -10, -13]),
    (-0.0075, [12, 9, 6, 3, 0, -3, -6, -9, -12, -15]),
    (-0.0060, [11, 8, 5, 2, -1, -4, -7, -10, -13, -16]),
    (-0.0045, [13, 10, 7, 4, 1, -2, -5, -8, -11, -14]),
    (-0.0030, [11, 8, 5, 2, -1, -4, -7, -10, -13]),
    (-0.0015, [8, 5, 2, -1, -4, -7, -10]),
    (0.0003, [13, 10, 7, 4, 1, -2, -5, -8]),
    (0.0018, [14, 11, 8, 5, 2, -1, -4, -7]),
    (0.0033, [12, 9, 6, 3, 0, -3, -6]),
    (0.0065, [3, 0, -3, -6, -9, -12]),
    (0.0080, [2, -1, -4, -7, -10, -13]),
    (0.0095, [4, 1, -2, -5, -8, -11, -14]),
    (0.0110, [5, 2, -1, -4, -7, -10, -13, -16]),
    (0.0122, [-4, -7, -10, -13]),
]

W, H = 1998, 1448
BG = "#d9edef"
GRID = "#c9c9c9"
TXT = "#1c1c1c"
NAVY = "#000066"


def flatten(columns):
    xs, ys = [], []
    for fst, values in columns:
        xs += [fst] * len(values)
        ys += values
    return xs, ys


def px_text(fig, x, y, s, **kw):
    return fig.text(x / W, 1 - y / H, s, **kw)


fig = plt.figure(figsize=(W / 100, H / 100), dpi=100, facecolor=BG)

# white cards behind each chart
for x0, x1, y0, y1 in [(47, 956, 41, 746), (1045, 1953, 41, 746),
                       (47, 956, 759, 1448), (1045, 1946, 758, 1448)]:
    fig.add_artist(Rectangle((x0 / W, 1 - y1 / H), (x1 - x0) / W, (y1 - y0) / H,
                             transform=fig.transFigure, fc="white", ec="none", zorder=-5))
fig.add_artist(Rectangle((608 / W, 1 - 4 / H), 801 / W, 4 / H,
                         transform=fig.transFigure, fc="black", ec="none"))

panels = [
    ("model 1", model1_points + model1_band, model1_core, (150.7, 908.0, 70.8, 669.4), (155, 62), (614, 55), (908, 474)),
    ("model 2", model2_points + model2_band, model2_core, (1148.3, 1905.0, 70.8, 669.4), (1165, 62), (1637, 42), (1917, 475)),
    ("model 3", model3_points + model3_band, model3_core, (150.7, 908.0, 789.0, 1387.0), (155, 788), (618, 775), (908, 1198)),
    ("model 4", model4_points + model4_band, model4_core, (1147.7, 1898.8, 787.3, 1381.0), (1165, 778), (1637, 777), (1917, 1199)),
]

for name, points, core, (left, right, top, bottom), name_xy, pe_xy, fst_xy in panels:
    ax = fig.add_axes([left / W, 1 - bottom / H, (right - left) / W, (bottom - top) / H])
    ax.patch.set_alpha(0)
    ax.set_xlim(-0.15, 0.10)
    ax.set_ylim(-100, 250)

    xs, ys = flatten(points)
    ax.scatter(xs, ys, s=6, c=TXT, linewidths=0, zorder=3)
    xs, ys = flatten(core)
    ax.scatter(xs, ys, s=15, c=TXT, linewidths=0, zorder=3)

    for side in ["top", "right"]:
        ax.spines[side].set_visible(False)
    ax.spines["left"].set_position(("data", 0))
    ax.spines["bottom"].set_position(("data", 0))
    for side in ["left", "bottom"]:
        ax.spines[side].set_color(GRID)
        ax.spines[side].set_linewidth(1.1)
    ax.set_xticks(x_ticks)
    ax.set_yticks(y_ticks)
    ax.tick_params(axis="both", direction="in", length=7.2, width=0.8, color=GRID,
                   labelleft=False, labelbottom=False)

    # labels sit away from the crossing axes, like in the spreadsheet original
    sec_x = ax.secondary_xaxis(-0.057)
    sec_x.set_xticks(x_ticks, x_labels)
    sec_x.tick_params(length=0, pad=0, labelsize=22.3, labelcolor=TXT)
    sec_x.spines["bottom"].set_visible(False)
    for lbl in sec_x.get_xticklabels():
        lbl.set_transform(lbl.get_transform() + ScaledTranslation(-4.5 / 100, 0, fig.dpi_scale_trans))

    sec_y = ax.secondary_yaxis(-0.044)
    sec_y.set_yticks(y_ticks, y_labels)
    sec_y.tick_params(length=0, pad=0, labelsize=22.3, labelcolor=TXT)
    sec_y.spines["left"].set_visible(False)
    for lbl in sec_y.get_yticklabels():
        lbl.set_transform(lbl.get_transform() + ScaledTranslation(0, -0.5 / 100, fig.dpi_scale_trans))

    px_text(fig, name_xy[0], name_xy[1], name, fontsize=44.8, fontweight="bold", color=NAVY,
            ha="left", va="baseline", zorder=5,
            path_effects=[pe.withSimplePatchShadow(offset=(2.2, -2.2), shadow_rgbFace="#9c9cb8", alpha=1)])
    px_text(fig, pe_xy[0], pe_xy[1], "PE", fontsize=31, fontweight="bold", color="black",
            ha="center", va="center", zorder=5)
    px_text(fig, fst_xy[0], fst_xy[1], "FST", fontsize=31, fontweight="bold", color="black",
            ha="center", va="center", zorder=5)

fig.savefig("out.png", dpi=100, facecolor=BG)
